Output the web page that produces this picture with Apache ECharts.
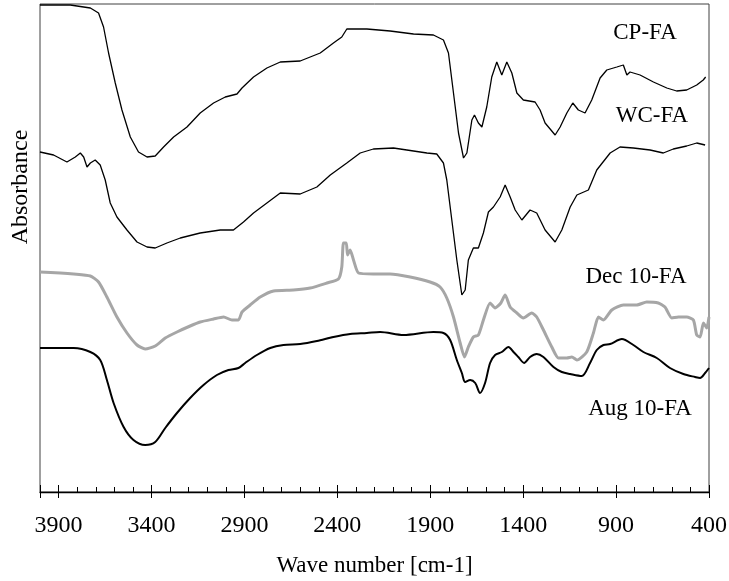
<!DOCTYPE html>
<html>
<head>
<meta charset="utf-8">
<title>FTIR spectra</title>
<script src="https://cdn.jsdelivr.net/npm/echarts@6/dist/echarts.min.js"></script>
<style>
	html, body { margin: 0; padding: 0; background: #fff; }
	#chart { width: 729px; height: 581px; }
</style>
</head>
<body>
<div id="chart"></div>
<script>
	// wave number [cm-1] / absorbance (a.u., curves offset as in the figure)
	const cpWn = [4000, 3837, 3729, 3685, 3658, 3631, 3595, 3559, 3514, 3470, 3424, 3380, 3335, 3281, 3209, 3138, 3066, 3003, 2940, 2913, 2851, 2779, 2707, 2600, 2492, 2421, 2376, 2349, 2241, 2116, 1990, 1883, 1829, 1802, 1775, 1748, 1721, 1703, 1676, 1662, 1641, 1622, 1596, 1569, 1542, 1533, 1515, 1488, 1461, 1434, 1399, 1336, 1309, 1282, 1228, 1201, 1165, 1133, 1103, 1067, 1031, 986, 950, 896, 861, 842, 825, 771, 699, 627, 574, 520, 466, 431, 418]
	const cpAbs = [4.87, 4.87, 4.84, 4.79, 4.65, 4.39, 4.09, 3.82, 3.55, 3.40, 3.35, 3.36, 3.45, 3.55, 3.65, 3.79, 3.89, 3.95, 3.98, 4.04, 4.15, 4.24, 4.30, 4.31, 4.39, 4.49, 4.55, 4.63, 4.63, 4.61, 4.58, 4.57, 4.52, 4.39, 3.99, 3.59, 3.34, 3.39, 3.72, 3.77, 3.69, 3.65, 3.85, 4.15, 4.30, 4.29, 4.17, 4.30, 4.19, 3.99, 3.92, 3.90, 3.82, 3.69, 3.57, 3.65, 3.79, 3.89, 3.82, 3.79, 3.92, 4.14, 4.22, 4.25, 4.27, 4.17, 4.20, 4.17, 4.10, 4.04, 4.01, 4.02, 4.07, 4.12, 4.15]

	const wcWn = [4000, 3927, 3855, 3810, 3783, 3765, 3747, 3729, 3703, 3676, 3649, 3622, 3586, 3532, 3478, 3424, 3380, 3317, 3245, 3138, 3030, 2959, 2905, 2851, 2779, 2707, 2600, 2510, 2438, 2349, 2277, 2206, 2098, 2026, 1918, 1865, 1829, 1811, 1784, 1757, 1730, 1712, 1695, 1668, 1641, 1614, 1587, 1560, 1524, 1497, 1470, 1443, 1407, 1363, 1327, 1282, 1228, 1192, 1147, 1111, 1049, 1004, 932, 879, 807, 717, 646, 592, 520, 466, 421]
	const wcAbs = [3.40, 3.37, 3.30, 3.35, 3.39, 3.35, 3.25, 3.29, 3.32, 3.27, 3.12, 2.89, 2.75, 2.62, 2.50, 2.45, 2.44, 2.49, 2.54, 2.59, 2.62, 2.62, 2.70, 2.79, 2.89, 2.99, 2.98, 3.05, 3.17, 3.29, 3.39, 3.43, 3.44, 3.42, 3.39, 3.38, 3.29, 3.12, 2.72, 2.32, 1.97, 2.02, 2.32, 2.44, 2.44, 2.59, 2.80, 2.85, 2.95, 3.07, 2.95, 2.82, 2.72, 2.82, 2.79, 2.62, 2.50, 2.62, 2.85, 2.97, 3.02, 3.22, 3.39, 3.45, 3.44, 3.42, 3.39, 3.43, 3.46, 3.49, 3.47]

	const decWn = [4000, 3891, 3819, 3729, 3685, 3640, 3586, 3532, 3478, 3434, 3380, 3326, 3263, 3192, 3138, 3066, 3012, 2967, 2932, 2913, 2869, 2815, 2743, 2636, 2546, 2456, 2394, 2376, 2367, 2352, 2345, 2331, 2313, 2286, 2206, 2116, 2008, 1901, 1847, 1811, 1775, 1739, 1716, 1695, 1668, 1641, 1614, 1578, 1551, 1520, 1497, 1470, 1434, 1399, 1354, 1327, 1291, 1246, 1210, 1165, 1138, 1111, 1058, 1022, 995, 968, 923, 861, 789, 735, 673, 637, 600, 565, 520, 484, 466, 448, 430, 412, 400]
	const decAbs = [2.20, 2.19, 2.18, 2.16, 2.10, 1.95, 1.75, 1.59, 1.47, 1.43, 1.46, 1.54, 1.60, 1.66, 1.70, 1.73, 1.75, 1.72, 1.72, 1.80, 1.87, 1.95, 2.01, 2.02, 2.04, 2.09, 2.13, 2.25, 2.49, 2.49, 2.37, 2.42, 2.32, 2.19, 2.18, 2.18, 2.15, 2.10, 2.05, 1.94, 1.75, 1.49, 1.35, 1.45, 1.55, 1.57, 1.72, 1.89, 1.84, 1.89, 1.97, 1.85, 1.79, 1.74, 1.79, 1.75, 1.62, 1.45, 1.34, 1.34, 1.35, 1.32, 1.40, 1.59, 1.75, 1.72, 1.82, 1.87, 1.87, 1.90, 1.89, 1.85, 1.74, 1.75, 1.75, 1.72, 1.57, 1.55, 1.69, 1.64, 1.75]

	const augWn = [4000, 3819, 3729, 3676, 3640, 3604, 3550, 3497, 3434, 3380, 3326, 3263, 3192, 3120, 3048, 2986, 2932, 2896, 2833, 2761, 2690, 2600, 2510, 2421, 2331, 2241, 2170, 2044, 1883, 1829, 1793, 1757, 1730, 1712, 1685, 1658, 1632, 1605, 1578, 1551, 1515, 1479, 1452, 1426, 1395, 1363, 1327, 1291, 1237, 1192, 1147, 1085, 1040, 1004, 968, 932, 869, 807, 753, 681, 610, 538, 475, 448, 421, 400]
	const augAbs = [1.44, 1.44, 1.40, 1.32, 1.12, 0.89, 0.65, 0.52, 0.47, 0.50, 0.64, 0.79, 0.94, 1.07, 1.17, 1.22, 1.24, 1.29, 1.37, 1.44, 1.47, 1.48, 1.51, 1.55, 1.58, 1.59, 1.60, 1.57, 1.60, 1.59, 1.52, 1.32, 1.19, 1.10, 1.12, 1.09, 0.99, 1.09, 1.29, 1.37, 1.40, 1.45, 1.40, 1.35, 1.29, 1.35, 1.38, 1.35, 1.25, 1.20, 1.18, 1.16, 1.29, 1.42, 1.47, 1.48, 1.53, 1.47, 1.40, 1.34, 1.24, 1.18, 1.15, 1.14, 1.19, 1.24]

	const names = ['CP-FA', 'WC-FA', 'Dec 10-FA', 'Aug 10-FA']

	const font = '"Liberation Serif", "Times New Roman", serif'

	function zip(xs, ys) {
		return xs.map((x, i) => [x, ys[i]])
	}

	const chart = echarts.init(document.getElementById('chart'))

	// shared x range, 3 axes stacked on the bottom: labels + inner ticks, outer ticks, minor ticks
	const xBase = {
		type: 'value',
		position: 'bottom',
		inverse: true,
		min: 400,
		max: 4000,
		splitLine: { show: false }
	}

	chart.setOption({
		animation: false,
		grid: {
			left: 40,
			right: 20,
			top: 4,
			bottom: 89,
			containLabel: false,
			outerBoundsMode: 'none',
			show: true,
			borderColor: '#404040',
			borderWidth: 1
		},
		xAxis: [
			Object.assign({}, xBase, {
				interval: 500,
				axisLine: { lineStyle: { color: '#000', width: 1.3 } },
				axisTick: { inside: true, length: 7, lineStyle: { color: '#000', width: 1 } },
				axisLabel: {
					margin: 22,
					color: '#000',
					fontFamily: font,
					fontSize: 24,
					formatter: v => (v === 4000 ? '' : String(v))
				},
				name: 'Wave number [cm-1]',
				nameLocation: 'middle',
				nameGap: 62,
				nameTextStyle: { color: '#000', fontFamily: font, fontSize: 23 }
			}),
			Object.assign({}, xBase, {
				interval: 500,
				axisLine: { show: false },
				axisTick: { inside: false, length: 6, lineStyle: { color: '#000', width: 1 } },
				axisLabel: { show: false }
			}),
			Object.assign({}, xBase, {
				interval: 100,
				axisLine: { show: false },
				axisTick: { inside: true, length: 5, lineStyle: { color: '#000', width: 1 } },
				axisLabel: { show: false }
			})
		],
		yAxis: {
			type: 'value',
			min: 0,
			max: 4.88,
			show: false
		},
		series: [
			{
				name: names[0], type: 'line', symbol: 'none',
				lineStyle: { color: '#000', width: 1.3 },
				data: zip(cpWn, cpAbs)
			},
			{
				name: names[1], type: 'line', symbol: 'none',
				lineStyle: { color: '#000', width: 1.3 },
				data: zip(wcWn, wcAbs)
			},
			{
				name: names[2], type: 'line', symbol: 'none', smooth: 0.2,
				lineStyle: { color: '#a6a6a6', width: 3 },
				data: zip(decWn, decAbs)
			},
			{
				name: names[3], type: 'line', symbol: 'none', smooth: 0.3,
				lineStyle: { color: '#000', width: 2 },
				data: zip(augWn, augAbs)
			}
		],
		graphic: [
			{ type: 'text', x: 645, y: 33, style: { text: names[0], font: '23px ' + font, fill: '#000', align: 'center', verticalAlign: 'middle' } },
			{ type: 'text', x: 652, y: 116, style: { text: names[1], font: '23px ' + font, fill: '#000', align: 'center', verticalAlign: 'middle' } },
			{ type: 'text', x: 636, y: 277, style: { text: names[2], font: '23px ' + font, fill: '#000', align: 'center', verticalAlign: 'middle' } },
			{ type: 'text', x: 640, y: 409, style: { text: names[3], font: '23px ' + font, fill: '#000', align: 'center', verticalAlign: 'middle' } },
			{ type: 'text', x: 21, y: 187, rotation: Math.PI / 2, style: { text: 'Absorbance', font: '24px ' + font, fill: '#000', align: 'center', verticalAlign: 'middle' } }
		]
	})
</script>
</body>
</html>
